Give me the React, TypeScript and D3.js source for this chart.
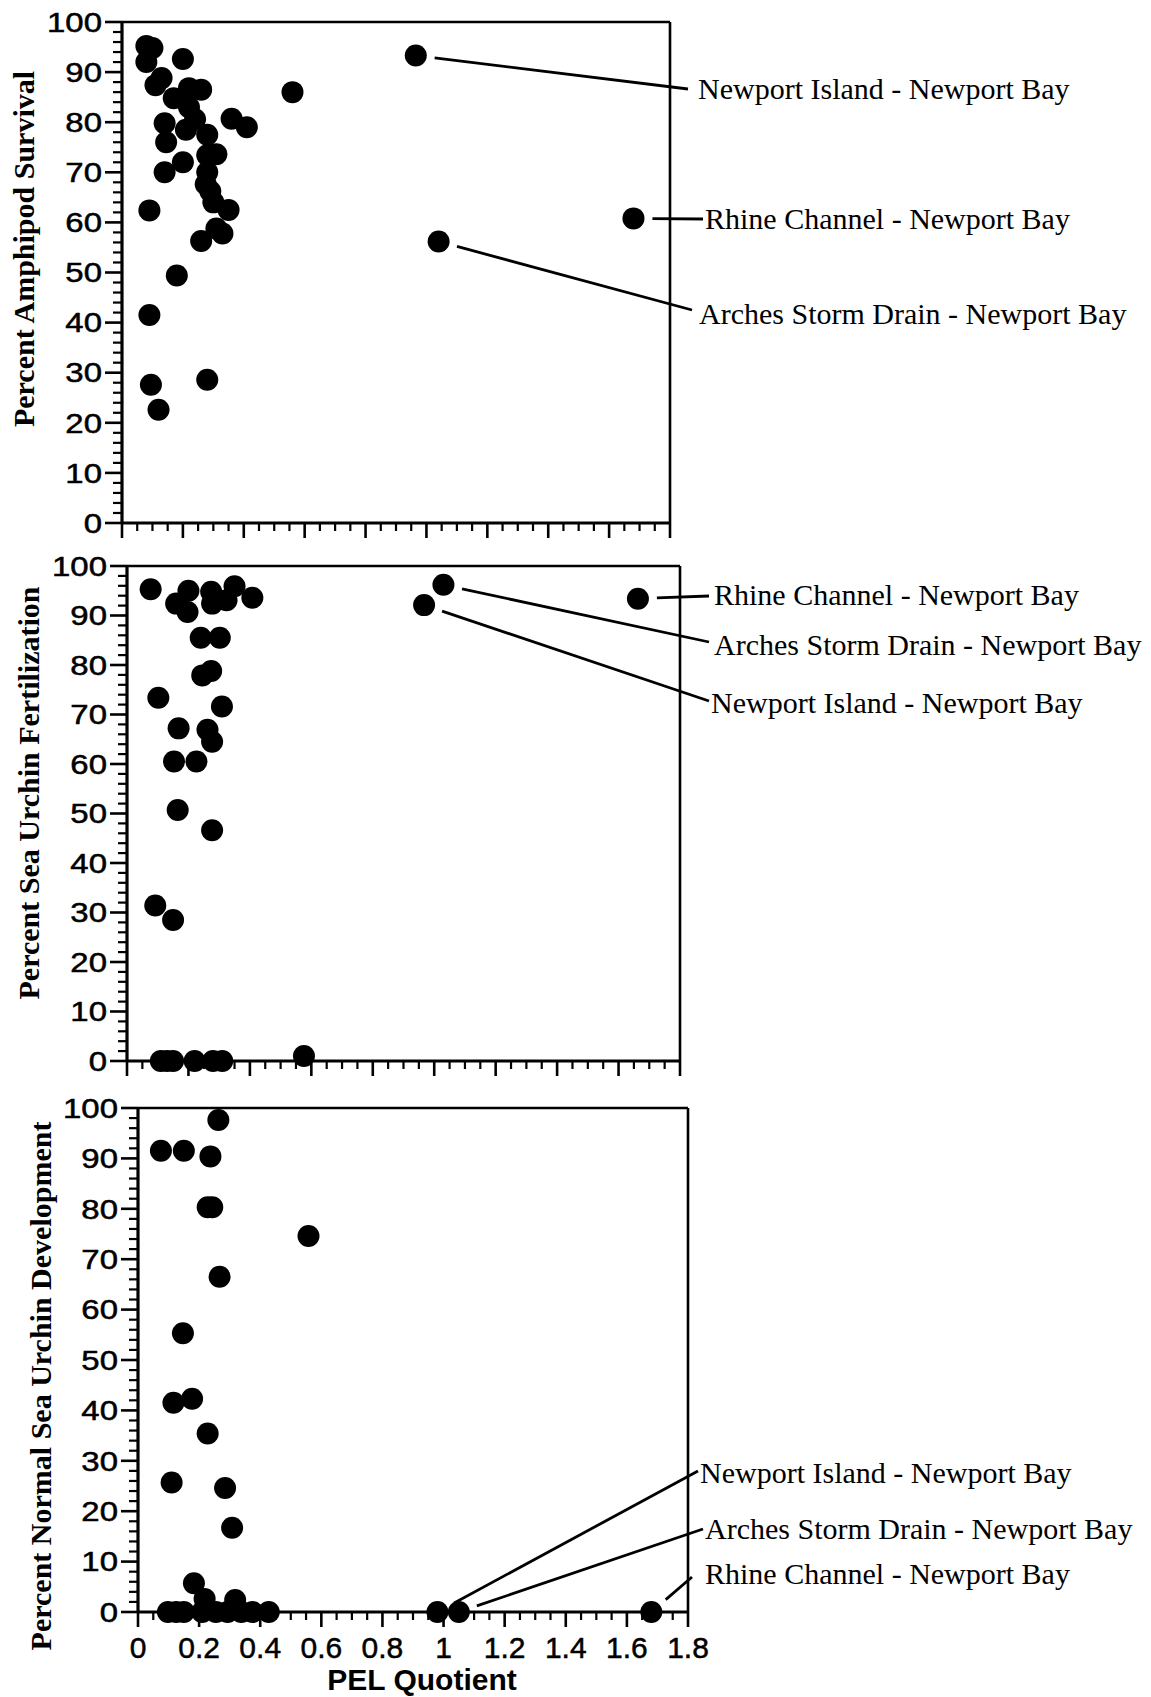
import React from "react";
import * as d3 from "d3";

// ---------- tick values / labels ----------
const yTickValues = [0, 10, 20, 30, 40, 50, 60, 70, 80, 90, 100];
const yTickLabels = ["0", "10", "20", "30", "40", "50", "60", "70", "80", "90", "100"];
const xTickValues = [0, 0.2, 0.4, 0.6, 0.8, 1.0, 1.2, 1.4, 1.6, 1.8];
const xTickLabels = ["0", "0.2", "0.4", "0.6", "0.8", "1", "1.2", "1.4", "1.6", "1.8"];

// ---------- titles ----------
const panelTitles = [
  "Percent Amphipod Survival",
  "Percent Sea Urchin Fertilization",
  "Percent Normal Sea Urchin Development",
];
const xAxisTitle = "PEL Quotient";
const siteNames = [
  "Newport Island - Newport Bay",
  "Rhine Channel - Newport Bay",
  "Arches Storm Drain - Newport Bay",
];

// ---------- panel 1: amphipod survival ----------
const amphipodX = [0.08, 0.10, 0.08, 0.20, 0.13, 0.11, 0.22, 0.26, 0.17, 0.22, 0.14, 0.24, 0.21, 0.28, 0.36, 0.41, 0.56, 0.145, 0.20, 0.14, 0.28, 0.31, 0.28, 0.275, 0.29, 0.30, 0.35, 0.09, 0.26, 0.31, 0.33, 0.18, 0.09, 0.095, 0.12, 0.28];
const amphipodY = [95.2, 94.8, 92.0, 92.6, 88.8, 87.4, 86.8, 86.5, 84.8, 83.0, 79.8, 80.6, 78.5, 77.5, 80.7, 79.0, 86.0, 76.0, 72.0, 70.0, 73.4, 73.6, 70.0, 67.6, 66.2, 64.0, 62.5, 62.4, 56.3, 58.8, 57.8, 49.4, 41.5, 27.6, 22.6, 28.6];
const amphipodSiteX = [0.965, 1.68, 1.04];
const amphipodSiteY = [93.3, 60.8, 56.2];

// ---------- panel 2: sea urchin fertilization ----------
const fertX = [0.077, 0.16, 0.20, 0.197, 0.24, 0.245, 0.274, 0.274, 0.277, 0.324, 0.35, 0.408, 0.302, 0.309, 0.262, 0.277, 0.168, 0.153, 0.226, 0.165, 0.277, 0.102, 0.092, 0.15, 0.11, 0.13, 0.15, 0.22, 0.28, 0.31, 0.576];
const fertY = [95.3, 92.4, 95.0, 90.7, 85.5, 77.9, 78.8, 94.8, 92.4, 93.1, 95.9, 93.6, 85.5, 71.6, 66.9, 64.5, 67.2, 60.5, 60.5, 50.7, 46.6, 73.4, 31.4, 28.5, 0, 0, 0, 0, 0, 0, 1.0];
const fertSiteX = [0.967, 1.663, 1.03];
const fertSiteY = [92.1, 93.4, 96.2];

// ---------- panel 3: normal sea urchin development ----------
const devX = [0.075, 0.15, 0.237, 0.263, 0.228, 0.243, 0.558, 0.267, 0.147, 0.116, 0.177, 0.228, 0.11, 0.285, 0.308, 0.183, 0.218, 0.318, 0.098, 0.125, 0.15, 0.21, 0.255, 0.293, 0.338, 0.375, 0.428];
const devY = [91.5, 91.5, 90.4, 97.6, 80.3, 80.3, 74.6, 66.5, 55.3, 41.5, 42.3, 35.4, 25.7, 24.6, 16.7, 5.7, 2.6, 2.4, 0, 0, 0, 0, 0, 0, 0, 0, 0];
const devSiteX = [0.98, 1.68, 1.05];
const devSiteY = [0, 0, 0];

// ---------- layout ----------
const W = 1151;
const H = 1697;
const R = 11;

const panels = [
  {
    xs: amphipodX, ys: amphipodY, sxs: amphipodSiteX, sys: amphipodSiteY,
    left: 122, right: 670, top: 22, bottom: 523,
    titleX: 24, titleY: 249, showXLabels: false,
    labels: [
      { site: 0, tx: 698, ty: 99, lx: 688, ly: 89 },
      { site: 1, tx: 705, ty: 229, lx: 703, ly: 219 },
      { site: 2, tx: 699, ty: 324, lx: 692, ly: 310 },
    ],
  },
  {
    xs: fertX, ys: fertY, sxs: fertSiteX, sys: fertSiteY,
    left: 127, right: 680, top: 566, bottom: 1061,
    titleX: 29, titleY: 793, showXLabels: false,
    labels: [
      { site: 1, tx: 714, ty: 605, lx: 709, ly: 596 },
      { site: 2, tx: 714, ty: 655, lx: 709, ly: 642 },
      { site: 0, tx: 711, ty: 713, lx: 709, ly: 701 },
    ],
  },
  {
    xs: devX, ys: devY, sxs: devSiteX, sys: devSiteY,
    left: 138, right: 688, top: 1108, bottom: 1612,
    titleX: 41, titleY: 1386, showXLabels: true,
    labels: [
      { site: 0, tx: 700, ty: 1483, lx: 698, ly: 1471 },
      { site: 2, tx: 705, ty: 1539, lx: 703, ly: 1529 },
      { site: 1, tx: 705, ty: 1584, lx: 692, ly: 1577 },
    ],
  },
];

const sansFont = "'Liberation Sans', Arial, Helvetica, sans-serif";
const serifFont = "'Liberation Serif', 'Times New Roman', Times, serif";

const yMinor = d3.range(0, 101, 2).filter((v) => v % 10 !== 0);
const xMinor = d3.range(0, 37).map((i) => i * 0.05).filter((_, i) => i % 4 !== 0);

function Panel({ p, idx }: { p: any; idx: number }) {
  const x = d3.scaleLinear().domain([0, 1.8]).range([p.left, p.right]);
  const y = d3.scaleLinear().domain([0, 100]).range([p.bottom, p.top]);
  const x0 = x(0);
  const y0 = y(0);
  return (
    <g>
      {/* frame */}
      <line x1={x(0)} x2={x(1.8)} y1={y(100)} y2={y(100)} stroke="#000" strokeWidth={2.6} />
      <line x1={x(1.8)} x2={x(1.8)} y1={y(100)} y2={y(0)} stroke="#000" strokeWidth={2.6} />
      <line x1={x0} x2={x0} y1={y(100) - 1} y2={y0 + 1} stroke="#000" strokeWidth={3.2} />
      <line x1={x0 - 1} x2={x(1.8) + 1} y1={y0} y2={y0} stroke="#000" strokeWidth={3.2} />
      {/* y ticks */}
      {yTickValues.map((v) => (
        <line key={"ym" + v} x1={x0 - 17} x2={x0} y1={y(v)} y2={y(v)} stroke="#000" strokeWidth={2.6} />
      ))}
      {yMinor.map((v) => (
        <line key={"yn" + v} x1={x0 - 9} x2={x0} y1={y(v)} y2={y(v)} stroke="#000" strokeWidth={2.2} />
      ))}
      {yTickValues.map((v, i) => (
        <g key={"yl" + v} transform={`translate(${x0 - 20},${y(v)}) scale(1.22,1)`}>
          <text x={0} y={0} dy="0.36em" textAnchor="end" fontFamily={sansFont} fontSize={27} fill="#000" stroke="#000" strokeWidth={0.5}>
            {yTickLabels[i]}
          </text>
        </g>
      ))}
      {/* x ticks */}
      {xTickValues.map((v) => (
        <line key={"xm" + v} x1={x(v)} x2={x(v)} y1={y0} y2={y0 + 15} stroke="#000" strokeWidth={2.6} />
      ))}
      {xMinor.map((v, i) => (
        <line key={"xn" + i} x1={x(v)} x2={x(v)} y1={y0} y2={y0 + 8} stroke="#000" strokeWidth={2.2} />
      ))}
      {p.showXLabels &&
        xTickValues.map((v, i) => (
          <text key={"xl" + v} x={x(v)} y={y0 + 46} textAnchor="middle" fontFamily={sansFont} fontSize={30} fill="#000" stroke="#000" strokeWidth={0.5}>
            {xTickLabels[i]}
          </text>
        ))}
      {/* axis title */}
      <text
        transform={`translate(${p.titleX + 10},${p.titleY}) rotate(-90)`}
        textAnchor="middle"
        fontFamily={serifFont}
        fontWeight="bold"
        fontSize={30}
        fill="#000"
      >
        {panelTitles[idx]}
      </text>
      {/* points */}
      {p.xs.map((xv: number, i: number) => (
        <circle key={"pt" + i} cx={x(xv)} cy={y(p.ys[i])} r={R} fill="#000" />
      ))}
      {p.sxs.map((xv: number, i: number) => (
        <circle key={"st" + i} cx={x(xv)} cy={y(p.sys[i])} r={R} fill="#000" />
      ))}
      {/* annotations */}
      {p.labels.map((l: any, i: number) => {
        const cx = x(p.sxs[l.site]);
        const cy = y(p.sys[l.site]);
        const dx = l.lx - cx;
        const dy = l.ly - cy;
        const len = Math.sqrt(dx * dx + dy * dy);
        const sx = cx + (dx / len) * 19;
        const sy = cy + (dy / len) * 19;
        return (
          <g key={"lab" + i}>
            <line x1={sx} y1={sy} x2={l.lx} y2={l.ly} stroke="#000" strokeWidth={2.8} />
            <text x={l.tx} y={l.ty} fontFamily={serifFont} fontSize={30} fill="#000">
              {siteNames[l.site]}
            </text>
          </g>
        );
      })}
    </g>
  );
}

export default function App() {
  const last = panels[2];
  const xTitleX = (last.left + last.right) / 2 + 9;
  return (
    <svg
      width={W}
      height={H}
      viewBox={`0 0 ${W} ${H}`}
      style={{ position: "absolute", left: 0, top: 0, background: "#fff" }}
    >
      <rect x={0} y={0} width={W} height={H} fill="#fff" />
      {panels.map((p, i) => (
        <Panel key={i} p={p} idx={i} />
      ))}
      <text x={xTitleX} y={1690} textAnchor="middle" fontFamily={sansFont} fontWeight="bold" fontSize={30} fill="#000">
        {xAxisTitle}
      </text>
    </svg>
  );
}
